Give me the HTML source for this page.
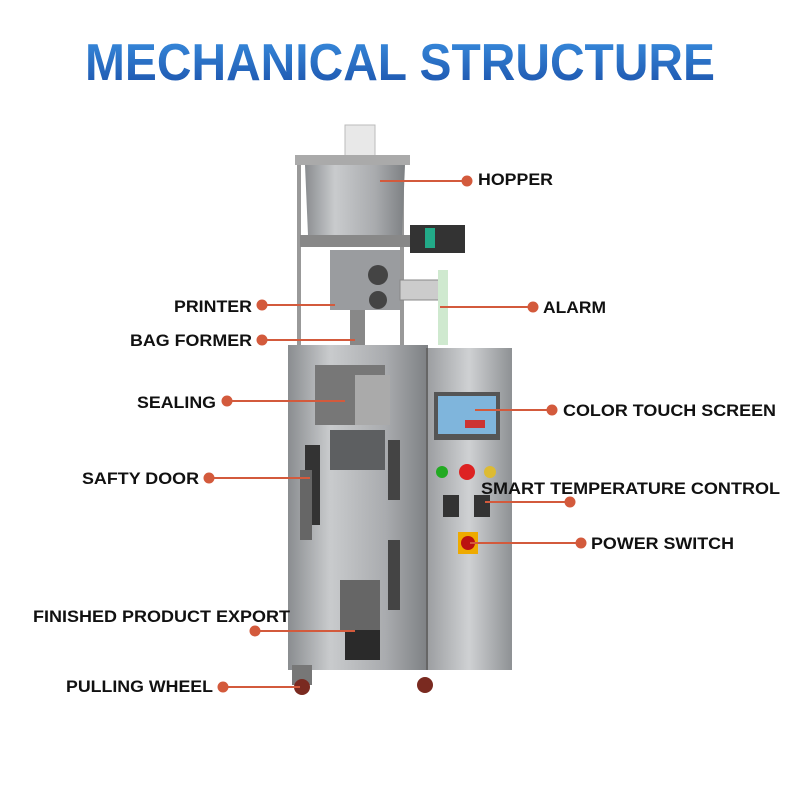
<!DOCTYPE html>
<html><head><meta charset="utf-8"><style>
html,body{margin:0;padding:0;background:#fff}
svg{display:block}
text{font-family:"Liberation Sans",sans-serif;font-weight:bold}
</style></head><body>
<svg width="800" height="800" viewBox="0 0 800 800" xmlns="http://www.w3.org/2000/svg">
<defs>
<linearGradient id="tg" x1="0" y1="0" x2="0" y2="1">
<stop offset="0" stop-color="#3a8fe0"/><stop offset="1" stop-color="#1a4fa8"/>
</linearGradient>
<linearGradient id="steel" x1="0" y1="0" x2="1" y2="0">
<stop offset="0" stop-color="#8a8d90"/><stop offset="0.3" stop-color="#c9cbcd"/><stop offset="0.7" stop-color="#a9abae"/><stop offset="1" stop-color="#7d8083"/>
</linearGradient>
<linearGradient id="steel2" x1="0" y1="0" x2="1" y2="0">
<stop offset="0" stop-color="#9a9c9f"/><stop offset="0.5" stop-color="#cfd1d3"/><stop offset="1" stop-color="#8e9194"/>
</linearGradient>
</defs>
<text x="400" y="80" text-anchor="middle" font-size="52" fill="url(#tg)" textLength="630" lengthAdjust="spacingAndGlyphs">MECHANICAL STRUCTURE</text>

<rect x="297" y="160" width="4" height="190" fill="#999"/>
<rect x="400" y="160" width="4" height="190" fill="#999"/>
<rect x="345" y="125" width="30" height="60" fill="#e8e8e8" stroke="#bbb"/>
<rect x="295" y="155" width="115" height="10" fill="#aaa"/>
<path d="M305 165 L405 165 L402 235 L308 235 Z" fill="url(#steel)"/>
<rect x="300" y="235" width="110" height="12" fill="#888"/>
<rect x="410" y="225" width="55" height="28" fill="#333"/>
<rect x="425" y="228" width="10" height="20" fill="#2a8"/>
<rect x="330" y="250" width="70" height="60" fill="#9a9c9f"/>
<circle cx="378" cy="275" r="10" fill="#444"/>
<circle cx="378" cy="300" r="9" fill="#444"/>
<rect x="400" y="280" width="45" height="20" fill="#ccc" stroke="#888"/>
<rect x="438" y="270" width="10" height="75" fill="#cfe9cf"/>
<rect x="350" y="310" width="15" height="40" fill="#888"/>
<rect x="288" y="345" width="140" height="325" fill="url(#steel)"/>
<rect x="426" y="348" width="86" height="322" fill="url(#steel2)"/>
<rect x="426" y="348" width="2" height="322" fill="#666"/>
<rect x="315" y="365" width="70" height="60" fill="#777"/>
<rect x="355" y="375" width="35" height="50" fill="#aaa"/>
<rect x="330" y="430" width="55" height="40" fill="#5d5f61"/>
<rect x="305" y="445" width="15" height="80" fill="#333"/>
<rect x="300" y="470" width="12" height="70" fill="#666"/>
<rect x="388" y="440" width="12" height="60" fill="#444"/>
<rect x="388" y="540" width="12" height="70" fill="#444"/>
<rect x="340" y="580" width="40" height="50" fill="#666"/>
<rect x="345" y="630" width="35" height="30" fill="#2a2a2a"/>
<rect x="434" y="392" width="66" height="48" fill="#555"/>
<rect x="438" y="396" width="58" height="38" fill="#7fb5dc"/>
<rect x="465" y="420" width="20" height="8" fill="#c33"/>
<circle cx="442" cy="472" r="6" fill="#2a2"/>
<circle cx="467" cy="472" r="8" fill="#d22"/>
<circle cx="490" cy="472" r="6" fill="#db3"/>
<rect x="443" y="495" width="16" height="22" fill="#333"/>
<rect x="474" y="495" width="16" height="22" fill="#333"/>
<rect x="458" y="532" width="20" height="22" fill="#ea0"/>
<circle cx="468" cy="543" r="7" fill="#b11"/>
<rect x="292" y="665" width="20" height="20" fill="#777"/>
<circle cx="302" cy="687" r="8" fill="#7a2a20"/>
<circle cx="425" cy="685" r="8" fill="#7a2a20"/>

<g stroke="#d35a3c" stroke-width="2" fill="#d35a3c">
<line x1="380" y1="181" x2="467" y2="181"/><circle cx="467" cy="181" r="4.5"/>
<line x1="262" y1="305" x2="335" y2="305"/><circle cx="262" cy="305" r="4.5"/>
<line x1="262" y1="340" x2="355" y2="340"/><circle cx="262" cy="340" r="4.5"/>
<line x1="227" y1="401" x2="345" y2="401"/><circle cx="227" cy="401" r="4.5"/>
<line x1="209" y1="478" x2="310" y2="478"/><circle cx="209" cy="478" r="4.5"/>
<line x1="255" y1="631" x2="355" y2="631"/><circle cx="255" cy="631" r="4.5"/>
<line x1="223" y1="687" x2="300" y2="687"/><circle cx="223" cy="687" r="4.5"/>
<line x1="440" y1="307" x2="533" y2="307"/><circle cx="533" cy="307" r="4.5"/>
<line x1="475" y1="410" x2="552" y2="410"/><circle cx="552" cy="410" r="4.5"/>
<line x1="485" y1="502" x2="570" y2="502"/><circle cx="570" cy="502" r="4.5"/>
<line x1="470" y1="543" x2="581" y2="543"/><circle cx="581" cy="543" r="4.5"/>
</g>
<g font-size="17" fill="#111">
<text x="478" y="185" textLength="75" lengthAdjust="spacingAndGlyphs">HOPPER</text>
<text x="174" y="312" textLength="78" lengthAdjust="spacingAndGlyphs">PRINTER</text>
<text x="130" y="346" textLength="122" lengthAdjust="spacingAndGlyphs">BAG FORMER</text>
<text x="137" y="408" textLength="79" lengthAdjust="spacingAndGlyphs">SEALING</text>
<text x="82" y="484" textLength="117" lengthAdjust="spacingAndGlyphs">SAFTY DOOR</text>
<text x="33" y="622" textLength="257" lengthAdjust="spacingAndGlyphs">FINISHED PRODUCT EXPORT</text>
<text x="66" y="692" textLength="147" lengthAdjust="spacingAndGlyphs">PULLING WHEEL</text>
<text x="543" y="313" textLength="63" lengthAdjust="spacingAndGlyphs">ALARM</text>
<text x="563" y="416" textLength="213" lengthAdjust="spacingAndGlyphs">COLOR TOUCH SCREEN</text>
<text x="481" y="494" textLength="299" lengthAdjust="spacingAndGlyphs">SMART TEMPERATURE CONTROL</text>
<text x="591" y="549" textLength="143" lengthAdjust="spacingAndGlyphs">POWER SWITCH</text>
</g>
</svg>
</body></html>
